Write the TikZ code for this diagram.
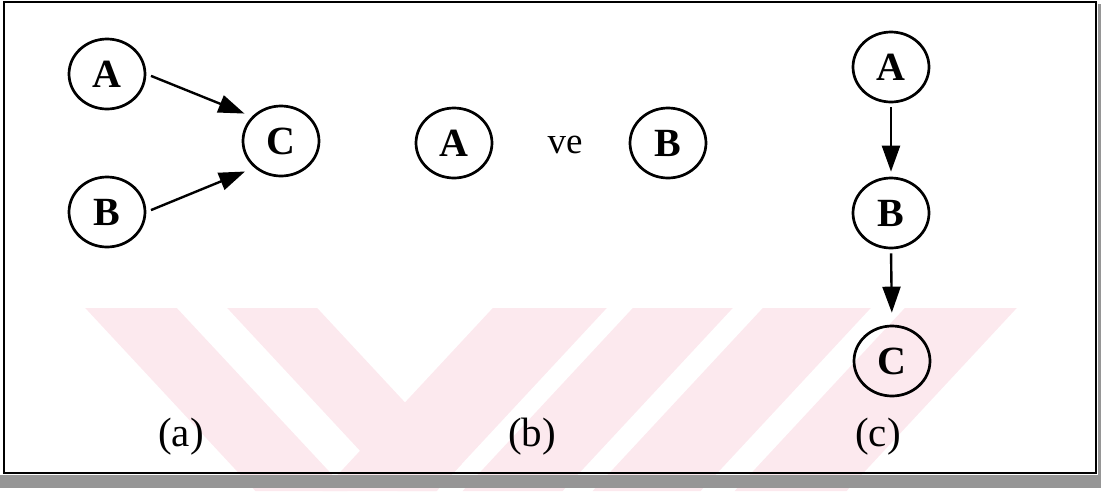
\documentclass[tikz,border=0pt]{standalone}
\usepackage{fontspec}
\setmainfont{Liberation Serif}
\usetikzlibrary{shapes.geometric,arrows.meta}
\definecolor{wmpink}{RGB}{252,233,238}
\definecolor{shadowgray}{RGB}{150,150,150}
\begin{document}
\begin{tikzpicture}[x=1pt,y=-1pt,
  state/.style={ellipse,draw,line width=2.7pt,minimum width=76pt,minimum height=70pt,
    inner sep=0pt,font=\fontsize{40}{44}\selectfont\bfseries},
  link/.style={line width=2.4pt,-{Triangle[length=26pt,width=18pt]}},
  caption/.style={font=\fontsize{41}{44}\selectfont},
  band/.style={fill=wmpink}]
\useasboundingbox (0,0) rectangle (1101,491);

% diagonal background bands
\fill[band] (85.2,308) -- (176.8,308) -- (347.4,491) -- (255.4,491) -- cycle;
\fill[band] (227.2,308) -- (317.2,308) -- (462,463.7) -- (436.6,491) -- (397.4,491) -- cycle;
\fill[band] (492.8,308) -- (606.8,308) -- (436.6,491) -- (322.6,491) -- cycle;
\fill[band] (632.8,308) -- (732.8,308) -- (562.6,491) -- (462.6,491) -- cycle;
\fill[band] (762.8,308) -- (870.8,308) -- (700.6,491) -- (592.6,491) -- cycle;
\fill[band] (904.8,308) -- (1016.8,308) -- (846.6,491) -- (734.6,491) -- cycle;

% drop shadow and frame
\fill[shadowgray] (0,475) rectangle (1101,488);
\fill[shadowgray] (1097.5,4) rectangle (1101,488);
\draw[line width=2.4pt] (4,2) rectangle (1096,473);

% (a) two causes of C
\node[state] (aA) at (107,74) {A};
\node[state] (aB) at (107,212) {B};
\node[state] (aC) at (281,141) {C};
\draw[link,shorten <=5pt,shorten >=8pt] (aA.east) -- (aC.140);
\draw[link,shorten <=5pt,shorten >=10pt] (aB.east) -- (aC.225);

% (b) independent pair
\node[state] (bA) at (454,143) {A};
\node[state] (bB) at (668,143) {B};
\node[font=\fontsize{37}{40}\selectfont] (ve) at (565,145) {ve};

% (c) chain
\node[state] (cA) at (891,67) {A};
\node[state] (cB) at (891,213) {B};
\node[state] (cC) at (892,361) {C};
\draw[link,shorten <=4pt,shorten >=5pt] (cA.south) -- (cB.north);
\draw[link,shorten <=4pt,shorten >=12pt] (cB.south) -- (cC.north);

% captions
\node[caption] (capa) at (181,437) {(a)};
\node[caption] (capb) at (532,437) {(b)};
\node[caption] (capc) at (878,437) {(c)};
\end{tikzpicture}
\end{document}
